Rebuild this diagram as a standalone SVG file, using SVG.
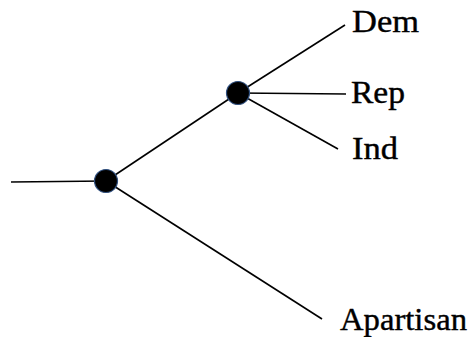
<svg xmlns="http://www.w3.org/2000/svg" width="472" height="337" viewBox="0 0 472 337">
<style>
.e{stroke:#000;stroke-width:1.6;fill:none}
.n{fill:#000;stroke:#2f4f7f;stroke-width:1.2}
.t{font-family:"Liberation Serif","Times New Roman",serif;font-size:31px;fill:#000;stroke:#000;stroke-width:0.4}
</style>
<rect width="472" height="337" fill="#fff"/>
<g id="connectors">
<line class="e" x1="11" y1="182" x2="106" y2="181"/>
<line class="e" x1="106" y1="181" x2="238" y2="93"/>
<line class="e" x1="106" y1="181" x2="322" y2="319"/>
<line class="e" x1="238" y1="93" x2="345" y2="25"/>
<line class="e" x1="238" y1="93" x2="346" y2="94"/>
<line class="e" x1="238" y1="93" x2="338" y2="149"/>
</g>
<g id="node1"><circle class="n" cx="106" cy="181" r="11.5"/></g>
<g id="node2"><circle class="n" cx="238" cy="93" r="11.5"/></g>
<g id="dem"><text class="t" x="352" y="32" textLength="67" lengthAdjust="spacingAndGlyphs">Dem</text></g>
<g id="rep"><text class="t" x="351" y="103" textLength="54" lengthAdjust="spacingAndGlyphs">Rep</text></g>
<g id="ind"><text class="t" x="352" y="159" textLength="46" lengthAdjust="spacingAndGlyphs">Ind</text></g>
<g id="apartisan"><text class="t" x="340" y="330" textLength="127" lengthAdjust="spacingAndGlyphs">Apartisan</text></g>
</svg>
